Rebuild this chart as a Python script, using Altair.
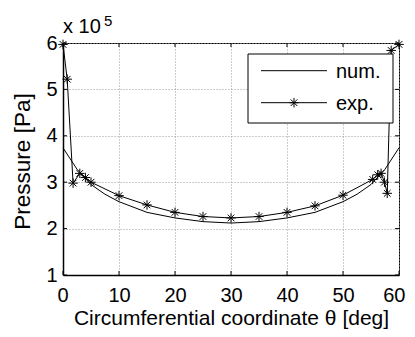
import altair as alt
import pandas as pd

# ---- data (pressure in units of 1e5 Pa) ----
theta_num = [0, 2.5, 5, 7.5, 10, 15, 20, 25, 30, 35, 40, 45, 50, 52.5, 55, 57.5, 60]
p_num = [3.74, 3.28, 2.95, 2.74, 2.58, 2.35, 2.23, 2.15, 2.12, 2.15, 2.23, 2.35, 2.58, 2.74, 2.95, 3.28, 3.74]

theta_exp = [0, 0.75, 1.8, 3.0, 4.0, 5.0, 10, 15, 20, 25, 30, 35, 40, 45, 50,
             55.3, 56.2, 56.8, 57.4, 57.9, 58.6, 60]
p_exp = [5.97, 5.22, 2.98, 3.19, 3.10, 3.00, 2.71, 2.51, 2.35, 2.26, 2.23, 2.26, 2.35, 2.49, 2.72,
         3.06, 3.16, 3.19, 3.00, 2.76, 5.84, 5.97]

x_ticks = [0, 10, 20, 30, 40, 50, 60]
y_ticks = [1, 2, 3, 4, 5, 6]
legend_labels = ["num.", "exp."]

W, H = 336, 232
FONT = "Liberation Sans"
STAR = "M-1,0H1M0,-1V1M-0.7,-0.7L0.7,0.7M-0.7,0.7L0.7,-0.7"

df_num = pd.DataFrame({"theta": theta_num, "p": p_num})
df_exp = pd.DataFrame({"theta": theta_exp, "p": p_exp})
df_xt = pd.DataFrame({"t": x_ticks})
df_yt = pd.DataFrame({"t": y_ticks})

xs = alt.Scale(domain=[0, 60], nice=False, zero=False)
ys = alt.Scale(domain=[1, 6], nice=False, zero=False)

x_axis = alt.Axis(values=x_ticks, title="Circumferential coordinate θ [deg]", grid=True,
                  ticks=False, tickSize=0, labelPadding=26, labelBaseline="alphabetic",
                  labelFlush=True, labelFlushOffset=6,
                  titleX=168, titleY=49.5, titleBaseline="alphabetic", titleAlign="center")
y_axis = alt.Axis(values=y_ticks, title="Pressure [Pa]", grid=True, ticks=False, tickSize=0,
                  labelPadding=6, labelFlush=False, titleX=-41, titleY=118, titleAngle=270,
                  titleBaseline="middle", titleAlign="center", titleFontSize=22.5)

num_line = alt.Chart(df_num).mark_line(color="black", strokeWidth=1).encode(
    x=alt.X("theta:Q", scale=xs, axis=x_axis),
    y=alt.Y("p:Q", scale=ys, axis=y_axis),
)
exp_line = alt.Chart(df_exp).mark_line(color="black", strokeWidth=1).encode(
    x=alt.X("theta:Q", scale=xs), y=alt.Y("p:Q", scale=ys))
exp_pts = alt.Chart(df_exp).mark_point(shape=STAR, size=90, filled=False, color="black",
                                       strokeWidth=1, opacity=1).encode(
    x=alt.X("theta:Q", scale=xs), y=alt.Y("p:Q", scale=ys))

# inward ticks on all four sides
tk = dict(color="black", strokeWidth=1)
tb = alt.Chart(df_xt).mark_rule(**tk).encode(x=alt.X("t:Q", scale=xs), y=alt.value(H), y2=alt.value(H - 4))
tt = alt.Chart(df_xt).mark_rule(**tk).encode(x=alt.X("t:Q", scale=xs), y=alt.value(0), y2=alt.value(4))
tl = alt.Chart(df_yt).mark_rule(**tk).encode(y=alt.Y("t:Q", scale=ys), x=alt.value(0), x2=alt.value(4))
tr = alt.Chart(df_yt).mark_rule(**tk).encode(y=alt.Y("t:Q", scale=ys), x=alt.value(W), x2=alt.value(W - 4))

# multiplier label
one = pd.DataFrame({"a": [0]})
mult = alt.Chart(one).mark_text(text="x 10", font=FONT, fontSize=20, align="left",
                                baseline="alphabetic", color="black").encode(
    x=alt.value(0), y=alt.value(-10))
mult5 = alt.Chart(one).mark_text(text="5", font=FONT, fontSize=15, align="left",
                                 baseline="alphabetic", color="black").encode(
    x=alt.value(41), y=alt.value(-17))

# legend box
box = alt.Chart(one).mark_rect(fill="white", stroke="black", strokeWidth=1).encode(
    x=alt.value(185), x2=alt.value(330), y=alt.value(11), y2=alt.value(80))
leg_df = pd.DataFrame({"label": legend_labels, "yy": [27.7, 59.7]})
leg_lines = alt.Chart(leg_df).mark_rule(color="black", strokeWidth=1).encode(
    x=alt.value(198), x2=alt.value(264), y=alt.Y("yy:Q", scale=None))
leg_text = alt.Chart(leg_df).mark_text(font=FONT, fontSize=20, align="left", baseline="middle",
                                       color="black", dy=1).encode(
    x=alt.value(273), y=alt.Y("yy:Q", scale=None), text="label:N")
leg_star = alt.Chart(leg_df.iloc[[1]]).mark_point(shape=STAR, size=90, filled=False,
                                                   color="black", strokeWidth=1, opacity=1).encode(
    x=alt.value(231), y=alt.Y("yy:Q", scale=None))

chart = alt.layer(
    num_line, exp_line, exp_pts, tb, tt, tl, tr, mult, mult5, box, leg_lines, leg_text, leg_star
).properties(
    width=W, height=H,
    autosize=alt.AutoSizeParams(type="none"),
    padding={"left": 55, "top": 35, "right": 8, "bottom": 54},
).configure_view(
    stroke="black", strokeWidth=1
).configure_axis(
    labelFont=FONT, labelFontSize=20, labelColor="black",
    titleFont=FONT, titleFontSize=21, titleColor="black", titleFontWeight="normal",
    domainColor="black", domainWidth=1.5,
    gridColor="#9a9a9a", gridDash=[1, 2], gridWidth=1, gridOpacity=1,
)

chart.save("out.html", embed_options={"renderer": "svg", "actions": False})
